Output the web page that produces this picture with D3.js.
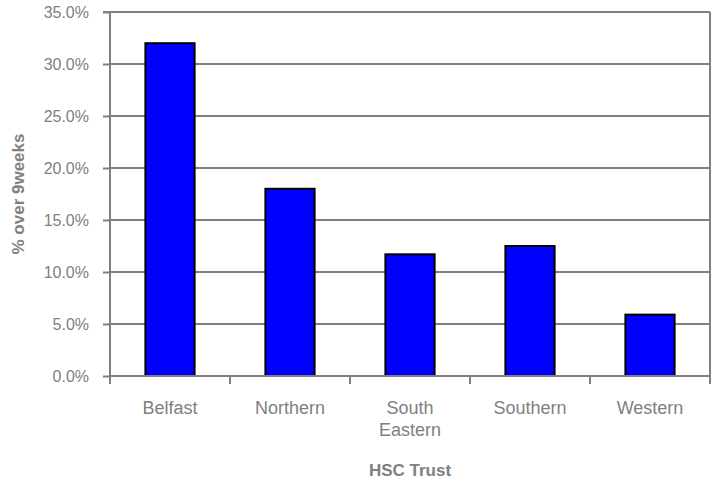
<!DOCTYPE html>
<html><head><meta charset="utf-8">
<script src="https://cdn.jsdelivr.net/npm/d3@7/dist/d3.min.js"></script>
<style>body{margin:0;background:#fff}text{font-family:"Liberation Sans",Arial,sans-serif}</style>
</head><body><svg id="c" width="715" height="487"></svg>
<script>
const categories = ["Belfast","Northern","South\nEastern","Southern","Western"];
const values = [0.320, 0.180, 0.117, 0.125, 0.059];
const yTicks = [0,0.05,0.10,0.15,0.20,0.25,0.30,0.35];
const yTitle = "% over 9weeks";
const xTitle = "HSC Trust";

const svg = d3.select("#c");
const m = {l:110, r:5, t:12, b:111};
const W = 715, H = 487;
const x = d3.scaleBand().domain(categories).range([m.l, W-m.r]).paddingInner(0.59).paddingOuter(0.295);
const xb = d3.scaleBand().domain(categories).range([m.l, W-m.r]);
const y = d3.scaleLinear().domain([0,0.35]).range([H-m.b, m.t]);
const grey = "#808080";
const fs = 17;

svg.append("g").selectAll("line").data(yTicks.slice(1)).join("line")
  .attr("x1", m.l).attr("x2", W-m.r).attr("y1", d=>y(d)).attr("y2", d=>y(d))
  .attr("stroke", grey).attr("stroke-width", 2);
svg.append("line").attr("x1", W-m.r).attr("x2", W-m.r).attr("y1", m.t).attr("y2", H-m.b).attr("stroke", grey).attr("stroke-width",2);

svg.append("g").selectAll("rect").data(values).join("rect")
  .attr("x", (d,i)=>x(categories[i])).attr("width", x.bandwidth())
  .attr("y", d=>y(d)).attr("height", d=>y(0)-y(d))
  .attr("fill", "#0000ff").attr("stroke", "#000").attr("stroke-width", 2);

const ya = svg.append("g").attr("transform", `translate(${m.l},0)`)
  .call(d3.axisLeft(y).tickValues(yTicks).tickFormat(d3.format(".1%")).tickSize(7).tickPadding(14));
ya.select(".domain").attr("stroke", grey).attr("stroke-width", 2).attr("d", `M-7,${y(0.35)}H0V${y(0)}`);
ya.selectAll(".tick line").attr("stroke", grey).attr("stroke-width", 2);
ya.selectAll(".tick text").attr("fill", grey).attr("font-size", 16).attr("font-family", "Liberation Sans, Arial, sans-serif");

const xa = svg.append("g").attr("transform", `translate(0,${y(0)})`)
  .call(d3.axisBottom(xb).tickSize(0).tickFormat(""));
xa.select(".domain").attr("stroke", grey).attr("stroke-width", 2).attr("d", `M${m.l},0H${W-m.r}`);
const bounds = categories.map(c=>xb(c)).concat([W-m.r]);
xa.selectAll("line.bt").data(bounds).join("line").attr("class","bt")
  .attr("x1", d=>d).attr("x2", d=>d).attr("y1", 0).attr("y2", 8).attr("stroke", grey).attr("stroke-width", 2);
xa.selectAll("text.lab").data(categories).join("text").attr("class","lab")
  .attr("y", 38)
  .attr("text-anchor","middle").attr("fill", grey).attr("font-size", 18)
  .each(function(d){
    const t = d3.select(this);
    d.split("\n").forEach((s,i)=>t.append("tspan").attr("x", xb(d)+xb.bandwidth()/2).attr("dy", i?22:0).text(s));
  });

svg.append("text").attr("x", (m.l+W-m.r)/2).attr("y", 476).attr("text-anchor","middle")
  .attr("fill", grey).attr("font-weight","bold").attr("font-size", fs).text(xTitle);
svg.append("text").attr("transform", `translate(24,${(m.t+H-m.b)/2}) rotate(-90)`).attr("text-anchor","middle")
  .attr("fill", grey).attr("font-weight","bold").attr("font-size", fs).text(yTitle);
</script></body></html>
